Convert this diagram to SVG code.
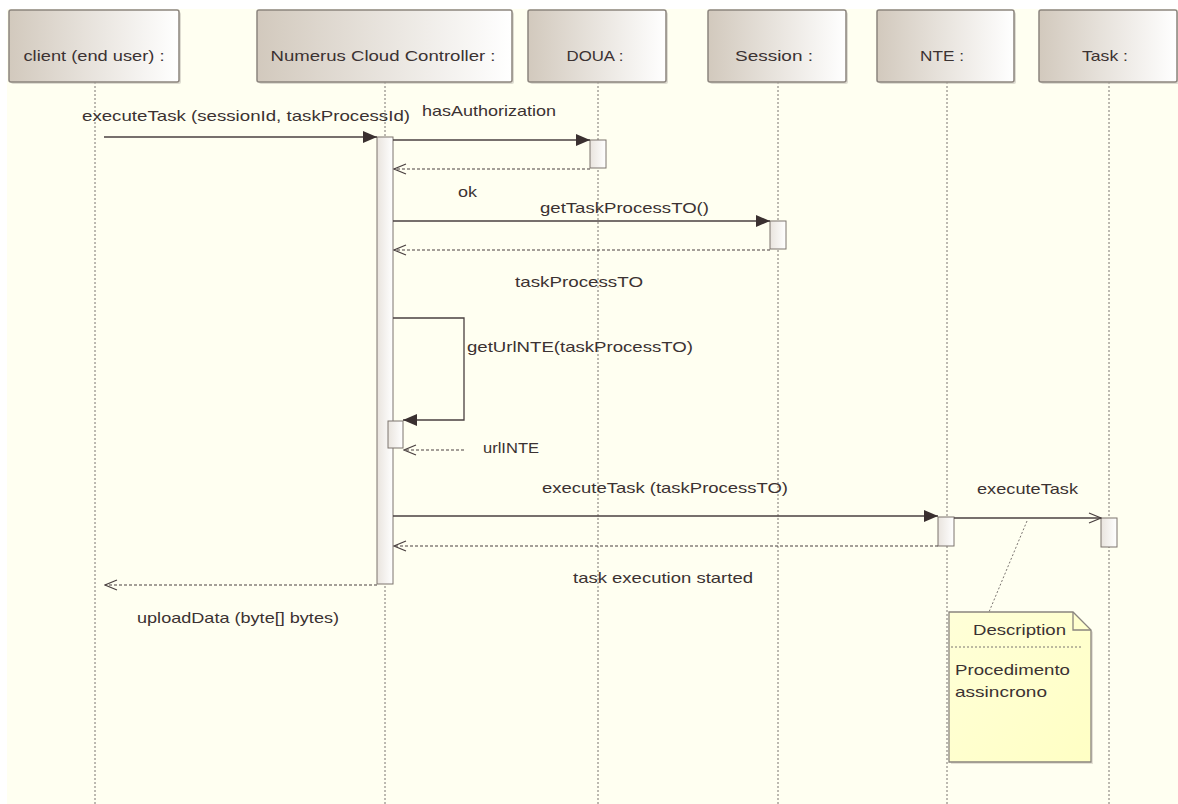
<svg xmlns="http://www.w3.org/2000/svg" width="1178" height="804" viewBox="0 0 1178 804">
  <style>
    text { font-family: "Liberation Sans", Arial, sans-serif; font-size: 15px; fill: #3b3232; }
    .hdr { fill: url(#hdrGrad); stroke: #8c857e; stroke-width: 1.5; }
    .life { stroke: #7a7470; stroke-width: 1; stroke-dasharray: 2 2; fill: none; }
    .act { fill: url(#actGrad); stroke: #7d756e; stroke-width: 1; }
    .msg { stroke: #4a4040; stroke-width: 1.3; fill: none; }
    .ret { stroke: #4a4040; stroke-width: 1.2; stroke-dasharray: 3 2; fill: none; }
    .shadow { fill: #c8c4bc; opacity: 0.6; }
  </style>
  <defs>
    <linearGradient id="hdrGrad" x1="0" y1="0" x2="1" y2="0">
      <stop offset="0" stop-color="#d2c9bd"/>
      <stop offset="1" stop-color="#ffffff"/>
    </linearGradient>
    <linearGradient id="actGrad" x1="0" y1="0" x2="1" y2="0">
      <stop offset="0" stop-color="#e9e4de"/>
      <stop offset="1" stop-color="#ffffff"/>
    </linearGradient>
    <linearGradient id="noteGrad" x1="0" y1="0" x2="1" y2="1">
      <stop offset="0" stop-color="#ffffd8"/>
      <stop offset="1" stop-color="#ffffc4"/>
    </linearGradient>
    <marker id="filled" markerWidth="14" markerHeight="12" refX="14" refY="6" orient="auto" markerUnits="userSpaceOnUse">
      <path d="M0,0 L14,6 L0,12 Z" fill="#3a3030"/>
    </marker>
    <marker id="open" markerWidth="14" markerHeight="12" refX="13" refY="6" orient="auto" markerUnits="userSpaceOnUse">
      <path d="M1,1 L13,6 L1,11" fill="none" stroke="#4a4040" stroke-width="1.2"/>
    </marker>
  </defs>

  <!-- canvas -->
  <rect x="0" y="0" width="1178" height="804" fill="#ffffff"/>
  <rect x="7" y="9" width="1171" height="795" fill="#fffff1"/>

  <!-- lifelines -->
  <g id="lifelines">
    <line class="life" x1="95" y1="82" x2="95" y2="804"/>
    <line class="life" x1="385" y1="82" x2="385" y2="804"/>
    <line class="life" x1="598" y1="82" x2="598" y2="804"/>
    <line class="life" x1="778" y1="82" x2="778" y2="804"/>
    <line class="life" x1="947" y1="82" x2="947" y2="804"/>
    <line class="life" x1="1109" y1="82" x2="1109" y2="804"/>
  </g>

  <!-- participants -->
  <g id="client">
    <rect class="shadow" x="11" y="12" width="170" height="72" rx="2"/>
    <rect class="hdr" x="9" y="10" width="170" height="72" rx="2"/>
    <text x="94" y="61" text-anchor="middle" textLength="141" lengthAdjust="spacingAndGlyphs">client (end user) :</text>
  </g>
  <g id="controller">
    <rect class="shadow" x="259" y="12" width="255" height="72" rx="2"/>
    <rect class="hdr" x="257" y="10" width="255" height="72" rx="2"/>
    <text x="383" y="61" text-anchor="middle" textLength="225" lengthAdjust="spacingAndGlyphs">Numerus Cloud Controller :</text>
  </g>
  <g id="doua">
    <rect class="shadow" x="530" y="12" width="138" height="72" rx="2"/>
    <rect class="hdr" x="528" y="10" width="138" height="72" rx="2"/>
    <text x="595" y="61" text-anchor="middle" textLength="57" lengthAdjust="spacingAndGlyphs">DOUA :</text>
  </g>
  <g id="session">
    <rect class="shadow" x="710" y="12" width="138" height="72" rx="2"/>
    <rect class="hdr" x="708" y="10" width="138" height="72" rx="2"/>
    <text x="774" y="61" text-anchor="middle" textLength="78" lengthAdjust="spacingAndGlyphs">Session :</text>
  </g>
  <g id="nte">
    <rect class="shadow" x="879" y="12" width="137" height="72" rx="2"/>
    <rect class="hdr" x="877" y="10" width="137" height="72" rx="2"/>
    <text x="942" y="61" text-anchor="middle" textLength="44" lengthAdjust="spacingAndGlyphs">NTE :</text>
  </g>
  <g id="task">
    <rect class="shadow" x="1041" y="12" width="138" height="72" rx="2"/>
    <rect class="hdr" x="1039" y="10" width="138" height="72" rx="2"/>
    <text x="1105" y="61" text-anchor="middle" textLength="46" lengthAdjust="spacingAndGlyphs">Task :</text>
  </g>

  <!-- activation bars -->
  <g id="activations">
    <rect class="act" x="377" y="137" width="16" height="447"/>
    <rect class="act" x="590" y="140" width="16" height="28"/>
    <rect class="act" x="770" y="221" width="16" height="28"/>
    <rect class="act" x="388" y="421" width="15" height="27"/>
    <rect class="act" x="938" y="517" width="16" height="29"/>
    <rect class="act" x="1101" y="518" width="16" height="29"/>
  </g>

  <!-- messages -->
  <g id="connectors">
    <line class="msg" x1="104" y1="137" x2="377" y2="137" marker-end="url(#filled)"/>
    <line class="msg" x1="393" y1="140" x2="590" y2="140" marker-end="url(#filled)"/>
    <line class="ret" x1="590" y1="169" x2="394" y2="169" marker-end="url(#open)"/>
    <line class="msg" x1="393" y1="221" x2="770" y2="221" marker-end="url(#filled)"/>
    <line class="ret" x1="770" y1="250" x2="394" y2="250" marker-end="url(#open)"/>
    <polyline class="msg" points="393,318 464,318 464,420 403,420" marker-end="url(#filled)"/>
    <line class="ret" x1="464" y1="450" x2="404" y2="450" marker-end="url(#open)"/>
    <line class="msg" x1="393" y1="516" x2="938" y2="516" marker-end="url(#filled)"/>
    <line class="ret" x1="938" y1="546" x2="394" y2="546" marker-end="url(#open)"/>
    <line class="msg" x1="954" y1="518" x2="1101" y2="518" marker-end="url(#open)"/>
    <line class="ret" x1="377" y1="585" x2="105" y2="585" marker-end="url(#open)"/>
    <!-- note anchor -->
    <line x1="1027" y1="521" x2="989" y2="612" stroke="#7a7470" stroke-width="1" stroke-dasharray="2 2"/>
  </g>

  <!-- message labels -->
  <g id="labels">
    <text x="82" y="121" textLength="328" lengthAdjust="spacingAndGlyphs">executeTask (sessionId, taskProcessId)</text>
    <text x="422" y="116" textLength="134" lengthAdjust="spacingAndGlyphs">hasAuthorization</text>
    <text x="458" y="197" textLength="19" lengthAdjust="spacingAndGlyphs">ok</text>
    <text x="540" y="213" textLength="169" lengthAdjust="spacingAndGlyphs">getTaskProcessTO()</text>
    <text x="515" y="287" textLength="128" lengthAdjust="spacingAndGlyphs">taskProcessTO</text>
    <text x="467" y="352" textLength="226" lengthAdjust="spacingAndGlyphs">getUrlNTE(taskProcessTO)</text>
    <text x="483" y="453" textLength="56" lengthAdjust="spacingAndGlyphs">urlINTE</text>
    <text x="542" y="493" textLength="246" lengthAdjust="spacingAndGlyphs">executeTask (taskProcessTO)</text>
    <text x="573" y="583" textLength="180" lengthAdjust="spacingAndGlyphs">task execution started</text>
    <text x="977" y="494" textLength="101" lengthAdjust="spacingAndGlyphs">executeTask</text>
    <text x="137" y="623" textLength="202" lengthAdjust="spacingAndGlyphs">uploadData (byte[] bytes)</text>
  </g>

  <!-- note -->
  <g id="note">
    <path d="M951,614 L1075,614 L1093,632 L1093,764 L951,764 Z" fill="#d8d4c8" opacity="0.7"/>
    <path d="M949,612 L1073,612 L1091,630 L1091,762 L949,762 Z" fill="url(#noteGrad)" stroke="#8a857e" stroke-width="1.3"/>
    <path d="M1073,612 L1073,630 L1091,630" fill="none" stroke="#8a857e" stroke-width="1.3"/>
    <line x1="951" y1="647" x2="1082" y2="647" stroke="#7a7470" stroke-width="1" stroke-dasharray="2 2"/>
    <text x="973" y="635" textLength="93" lengthAdjust="spacingAndGlyphs">Description</text>
    <text x="955" y="675" textLength="115" lengthAdjust="spacingAndGlyphs">Procedimento</text>
    <text x="955" y="697" textLength="92" lengthAdjust="spacingAndGlyphs">assincrono</text>
  </g>
</svg>
